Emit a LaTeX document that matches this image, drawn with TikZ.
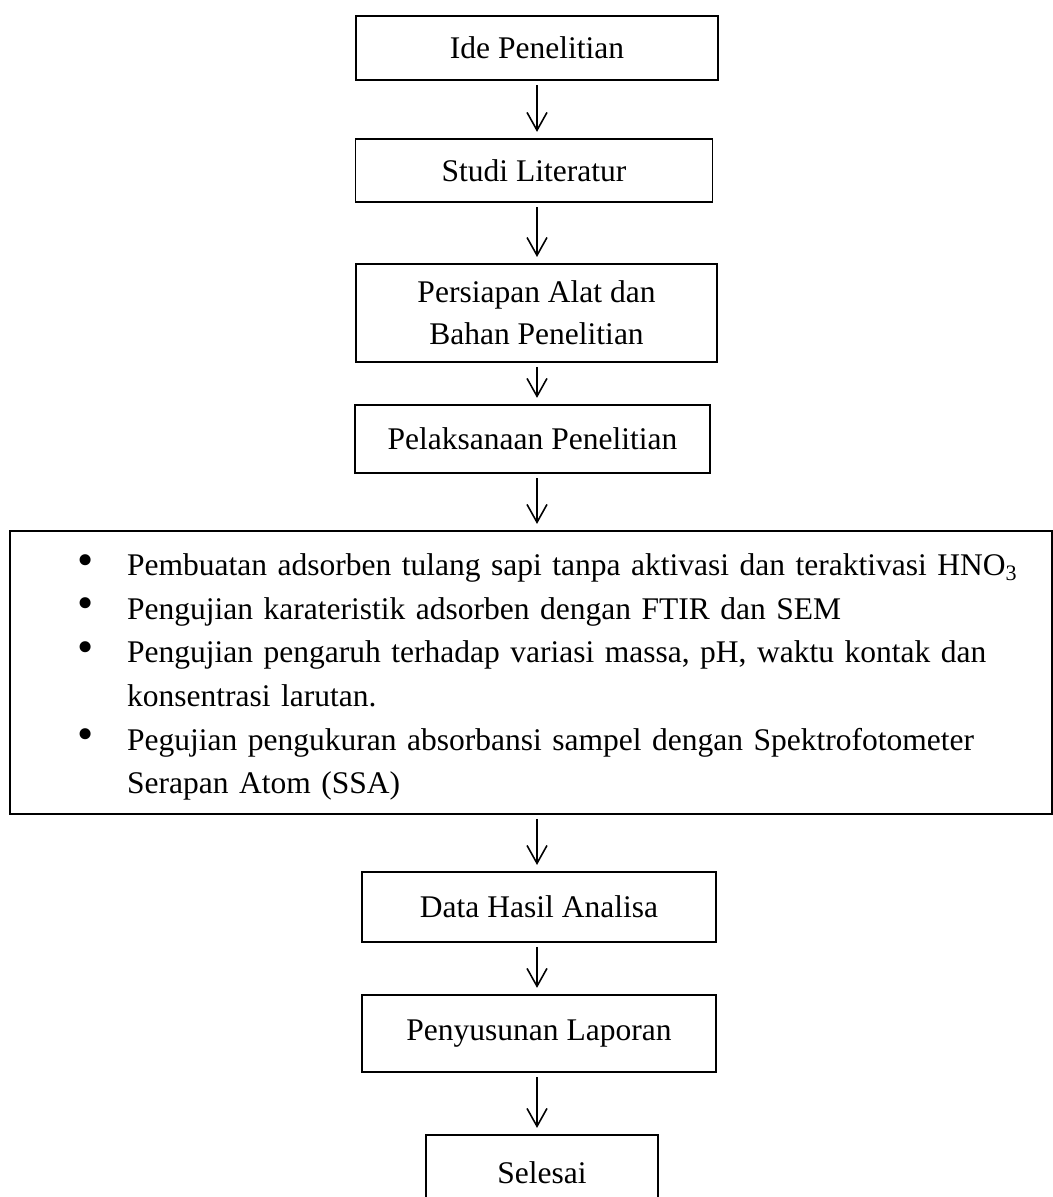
\documentclass[tikz,border=0pt]{standalone}
\usepackage{fontspec}
\setmainfont{Liberation Serif}
\usepackage{enumitem}
\usetikzlibrary{arrows.meta}

\begin{document}
\begin{tikzpicture}[x=0.476pt,y=-0.476pt,
  box/.style={draw,line width=0.75pt,align=center,inner sep=0pt,font=\fontsize{15pt}{20pt}\selectfont},
  arr/.style={-{Straight Barb[length=8.5pt,width=9.5pt]},line width=0.75pt,shorten <=2pt,shorten >=3pt}]
   \useasboundingbox (0,0) rectangle (1053,1197);
   \clip (0,0) rectangle (1053,1197);
   \coordinate (axis) at (537,0);
   % tahapan
   \node[box,minimum width=172.3pt,minimum height=30.5pt] (ide) at (537,48) {Ide Penelitian};
   \node[box,minimum width=170pt,minimum height=30pt] (studi) at (534,170.5) {Studi Literatur};
   \node[box,minimum width=171.8pt,minimum height=46.6pt] (persiapan) at (536.5,313) {Persiapan Alat dan\\Bahan Penelitian};
   \node[box,minimum width=169pt,minimum height=32.4pt] (pelaksanaan) at (532.5,439) {Pelaksanaan Penelitian};
   \node[box,minimum width=496pt,minimum height=134.7pt,text width=478pt,align=left,
         font=\fontsize{15pt}{20.75pt}\selectfont] (proses) at (531,672.5) {%
     \begin{itemize}[nosep,leftmargin=46.7pt,labelsep=16pt,label={\raisebox{0.3pt}{\fontsize{22pt}{22pt}\selectfont\textbullet}}]
       \item Pembuatan adsorben tulang sapi tanpa aktivasi dan teraktivasi HNO\textsubscript{3}
       \item Pengujian karateristik adsorben dengan FTIR dan SEM
       \item Pengujian pengaruh terhadap variasi massa, pH, waktu kontak dan\newline konsentrasi larutan.
       \item Pegujian pengukuran absorbansi sampel dengan Spektrofotometer\newline Serapan Atom (SSA)
     \end{itemize}\par\vskip 6pt\hrule height 0pt width 0pt};
   \node[box,minimum width=168.5pt,minimum height=33.3pt] (data) at (539,907) {Data Hasil Analisa};
   \node[box,minimum width=168.5pt,minimum height=36.7pt] (laporan) at (539,1033.5) {Penyusunan Laporan};
   \node[box,minimum width=110.4pt,minimum height=35.7pt] (selesai) at (542,1172.5) {Selesai};

   \draw[arr] (ide.south -| axis) -- (studi.north -| axis);
   \draw[arr] (studi.south -| axis) -- (persiapan.north -| axis);
   \draw[arr] (persiapan.south -| axis) -- (pelaksanaan.north -| axis);
   \draw[arr] (pelaksanaan.south -| axis) -- (proses.north -| axis);
   \draw[arr] (proses.south -| axis) -- (data.north -| axis);
   \draw[arr] (data.south -| axis) -- (laporan.north -| axis);
   \draw[arr] (laporan.south -| axis) -- (selesai.north -| axis);
\end{tikzpicture}
\end{document}
